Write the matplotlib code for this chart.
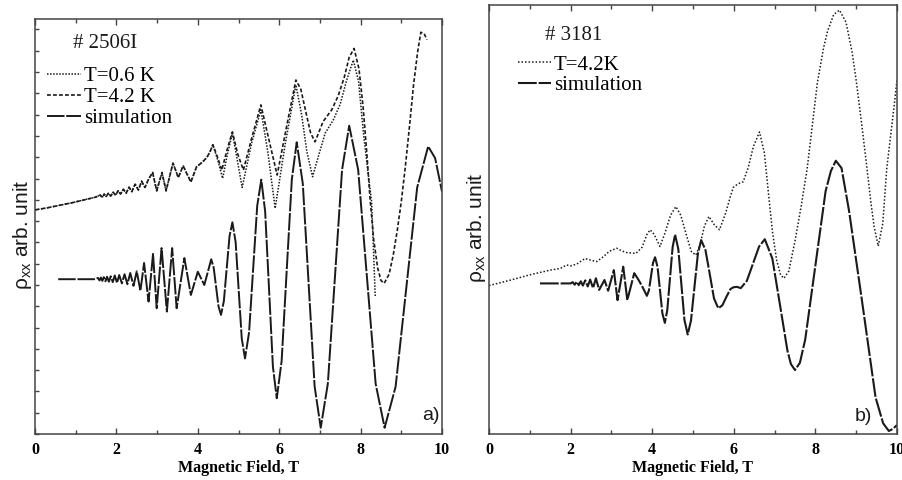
import numpy as np
import matplotlib.pyplot as plt
from matplotlib.ticker import MultipleLocator

plt.rcParams['font.family'] = ['Liberation Serif', 'DejaVu Serif']
plt.rcParams['mathtext.fontset'] = 'custom'
plt.rcParams['mathtext.rm'] = 'Liberation Sans'

# ---- panel a) sample # 2506I (rho in arb. units, 0..100 over the axis height)
field_06K_a = [0.0, 0.3, 0.6, 0.9, 1.2, 1.5, 1.6, 1.65, 1.7, 1.75, 1.8, 1.86, 1.92, 1.98,
               2.04, 2.1, 2.17, 2.24, 2.31, 2.38, 2.46, 2.54, 2.62, 2.70, 2.80, 2.89, 2.99,
               3.12, 3.22, 3.39, 3.52, 3.64, 3.83, 3.97, 4.10, 4.22, 4.30, 4.37, 4.49, 4.61,
               4.73, 4.85, 4.97, 5.09, 5.32, 5.55, 5.72, 5.90, 6.15, 6.41, 6.55, 6.68, 6.82,
               6.98, 7.13, 7.33, 7.50, 7.65, 7.82, 7.95, 8.07, 8.17, 8.27, 8.31, 8.36]
rho_06K_a = [54.0, 54.5, 55.1, 55.7, 56.4, 57.1, 57.6, 57.0, 57.8, 57.2, 58.0, 57.3, 58.3, 57.5,
             58.6, 57.8, 59.0, 58.0, 59.5, 58.4, 60.2, 58.8, 60.9, 59.4, 61.6, 63.0, 58.6,
             63.0, 58.6, 65.3, 61.8, 64.6, 60.7, 64.4, 65.4, 66.6, 68.0, 69.7, 66.0, 61.6,
             67.5, 72.5, 66.0, 59.4, 70.0, 78.1, 68.0, 54.4, 70.0, 84.1, 77.0, 68.0, 62.0,
             67.5, 72.5, 75.7, 79.5, 85.0, 90.1, 85.0, 72.5, 64.0, 56.0, 46.0, 33.1]

field_42K_a = [0.0, 0.3, 0.6, 0.9, 1.2, 1.5, 1.6, 1.65, 1.7, 1.75, 1.8, 1.86, 1.92, 1.98,
               2.04, 2.1, 2.17, 2.24, 2.31, 2.38, 2.46, 2.54, 2.62, 2.70, 2.80, 2.89, 2.99,
               3.12, 3.22, 3.39, 3.52, 3.64, 3.83, 3.97, 4.10, 4.22, 4.30, 4.37, 4.48, 4.59,
               4.72, 4.85, 4.98, 5.12, 5.33, 5.55, 5.75, 5.95, 6.18, 6.41, 6.53, 6.65, 6.77,
               6.88, 7.08, 7.29, 7.45, 7.60, 7.72, 7.84, 7.96, 8.06, 8.15, 8.23, 8.32, 8.42,
               8.50, 8.58, 8.70, 8.80, 8.90, 9.00, 9.10, 9.20, 9.30, 9.40, 9.48, 9.56, 9.63]
rho_42K_a = [54.0, 54.5, 55.1, 55.7, 56.4, 57.1, 57.6, 57.0, 57.8, 57.2, 58.0, 57.3, 58.3, 57.5,
             58.6, 57.8, 59.0, 58.0, 59.5, 58.4, 60.2, 58.8, 60.9, 59.4, 61.6, 63.0, 58.6,
             63.0, 58.6, 65.3, 61.8, 64.6, 60.7, 64.4, 65.4, 66.6, 68.0, 69.7, 66.8, 63.6,
             68.5, 72.8, 67.5, 63.6, 71.5, 79.3, 70.8, 62.4, 74.0, 85.3, 83.1, 77.8, 72.6,
             70.4, 75.3, 78.1, 81.5, 86.0, 90.8, 92.9, 88.0, 79.0, 68.0, 57.0, 47.0, 40.0,
             37.0, 36.3, 38.5, 43.0, 49.0, 56.0, 64.5, 74.0, 84.0, 92.0, 96.8, 96.5, 95.0]

field_sim_a = [0.57, 1.45, 1.55, 1.585, 1.62, 1.655, 1.69, 1.73, 1.77, 1.815, 1.86, 1.91, 1.96,
               2.015, 2.07, 2.135, 2.20, 2.27, 2.34, 2.42, 2.50, 2.59, 2.68, 2.79, 2.90, 2.99,
               3.11, 3.24, 3.37, 3.48, 3.67, 3.83, 4.00, 4.16, 4.33, 4.39, 4.45, 4.51, 4.57,
               4.64, 4.71, 4.78, 4.85, 4.93, 5.005, 5.08, 5.16, 5.26, 5.36, 5.46, 5.56, 5.655,
               5.75, 5.845, 5.94, 6.06, 6.185, 6.31, 6.43, 6.58, 6.725, 6.87, 7.02, 7.195,
               7.37, 7.545, 7.72, 7.94, 8.155, 8.37, 8.59, 8.86, 9.125, 9.39, 9.66, 9.83, 10.0]
rho_sim_a = [37.3, 37.3, 37.6, 37.0, 37.7, 36.9, 37.8, 36.8, 37.9, 36.7, 38.0, 36.6, 38.2,
             36.4, 38.3, 36.3, 38.5, 36.1, 38.8, 35.7, 39.2, 34.5, 41.2, 31.9, 43.4, 30.3,
             44.8, 29.5, 44.8, 30.3, 42.4, 33.5, 39.1, 35.9, 42.1, 40.1, 35.4, 30.7, 28.7,
             32.0, 39.9, 47.7, 51.0, 46.2, 34.6, 23.0, 18.2, 24.5, 39.8, 55.0, 61.3, 53.6,
             35.0, 16.3, 8.6, 17.6, 39.5, 61.3, 70.3, 60.3, 35.9, 11.5, 1.5, 12.1,
             37.9, 63.7, 74.3, 63.7, 37.9, 12.1, 1.5, 11.4, 35.4, 59.4, 69.3, 66.5, 58.4]

# ---- panel b) sample # 3181
field_42K_b = [0.0, 0.5, 1.0, 1.5, 1.75, 1.9, 2.0, 2.15, 2.35, 2.5, 2.64, 2.8, 2.95, 3.13,
               3.25, 3.37, 3.6, 3.75, 3.87, 3.95, 4.05, 4.19, 4.3, 4.45, 4.58, 4.7, 4.85, 4.96,
               5.07, 5.17, 5.28, 5.39, 5.52, 5.65, 5.8, 5.92, 5.99, 6.1, 6.23, 6.35, 6.48,
               6.63, 6.75, 6.85, 6.95, 7.05, 7.15, 7.23, 7.35, 7.5, 7.65, 7.8, 7.95, 8.05,
               8.2, 8.3, 8.45, 8.59, 8.75, 8.9, 9.01, 9.15, 9.26, 9.36, 9.44, 9.54, 9.65,
               9.75, 9.85, 9.93, 10.0]
rho_42K_b = [34.6, 35.8, 37.1, 38.2, 38.6, 39.4, 39.2, 39.6, 40.9, 40.5, 40.2, 41.3, 42.6, 43.3,
             42.7, 42.3, 42.1, 43.5, 46.5, 47.6, 46.5, 43.7, 46.5, 51.0, 53.0, 51.0, 46.0, 42.5,
             41.7, 44.0, 48.5, 50.7, 48.8, 47.6, 51.5, 55.5, 57.5, 58.3, 58.8, 62.0, 67.0,
             70.4, 65.5, 56.0, 47.0, 40.5, 37.0, 36.3, 38.0, 45.0, 53.0, 62.0, 74.0, 82.0,
             90.0, 94.0, 97.8, 98.8, 96.0, 89.0, 81.7, 71.0, 62.3, 54.0, 48.3, 43.8, 49.0,
             62.0, 70.0, 76.5, 82.5]

field_sim_b = [1.25, 2.0, 2.05, 2.1, 2.15, 2.2, 2.25, 2.3, 2.36, 2.42, 2.48, 2.55, 2.62, 2.70,
               2.83, 2.92, 3.06, 3.15, 3.29, 3.39, 3.56, 3.66, 3.75, 3.87, 3.92, 3.97, 4.02,
               4.07, 4.13, 4.19, 4.25, 4.31, 4.37, 4.435, 4.50, 4.56, 4.64, 4.715, 4.79, 4.87,
               4.95, 5.035, 5.12, 5.20, 5.305, 5.41, 5.515, 5.62, 5.72, 5.82, 5.92, 5.99, 6.08,
               6.17, 6.32, 6.47, 6.62, 6.76, 6.945, 7.13, 7.315, 7.40, 7.50, 7.62, 7.75, 8.0,
               8.25, 8.38, 8.50, 8.64, 8.825, 9.15, 9.475, 9.66, 9.80, 9.9, 10.0]
rho_sim_b = [35.1, 35.1, 35.4, 34.8, 35.5, 34.7, 35.6, 34.6, 35.8, 34.4, 36.0, 34.0, 36.3, 33.6,
             35.9, 33.4, 38.2, 31.2, 39.0, 31.2, 37.5, 36.0, 34.5, 32.2, 33.5, 36.7, 39.9,
             41.2, 39.0, 33.6, 28.1, 25.9, 28.9, 36.2, 43.5, 46.5, 43.1, 34.9, 26.6, 23.2,
             26.4, 34.2, 42.0, 45.2, 42.9, 37.3, 31.6, 29.3, 30.0, 32.0, 33.8, 34.2, 34.3,
             34.0, 35.7, 39.7, 43.7, 45.4, 40.9, 30.2, 19.4, 16.3, 14.9, 16.6, 22.0, 39.3,
             56.6, 61.3, 63.7, 62.0, 52.0, 30.5, 8.5, 2.5, 0.7, 1.2, 2.1]

samples = ['# 2506I', '# 3181']
panel_tags = ['a)', 'b)']
ylabel = 'ρ$_{\\mathregular{xx}}$ arb. unit'
xlabel = 'Magnetic Field, T'

ink = '#1a1a1a'
spine_col = '#444444'
dotted = (0, (1, 1))
short_dash = (0, (2.3, 1.3))
long_dash = (0, (9, 0.9))
leg_font = {'family': 'Liberation Serif', 'size': 15}

fig = plt.figure(figsize=(9.02, 4.8), dpi=100)
ax1 = fig.add_axes([35/902, 46/480, 407/902, 415/480])
ax2 = fig.add_axes([489/902, 46/480, 408/902, 429/480])


def style_axes(ax, yticks):
    ax.set_xlim(0, 10)
    ax.set_ylim(0, 100)
    ax.xaxis.set_major_locator(MultipleLocator(2))
    ax.xaxis.set_minor_locator(MultipleLocator(1))
    ax.tick_params(axis='x', which='major', direction='in', length=4, width=1,
                   top=True, color=spine_col, labelsize=11.5, pad=6)
    ax.tick_params(axis='x', which='minor', direction='in', length=3, width=1,
                   top=True, color=spine_col)
    if yticks:
        ax.yaxis.set_major_locator(MultipleLocator(5.13))
        ax.tick_params(axis='y', which='major', direction='in', length=3, width=1,
                       color=spine_col, labelleft=False)
    else:
        ax.set_yticks([])
    ax.yaxis.set_minor_locator(plt.NullLocator())
    for lab in ax.get_xticklabels():
        lab.set_fontweight('bold')
    for sp in ax.spines.values():
        sp.set_color(spine_col)
        sp.set_linewidth(1.1)
    ax.set_xlabel(xlabel, fontweight='bold', fontsize=11.5, labelpad=1)
    ax.set_ylabel(ylabel, family='Liberation Sans', fontsize=15, color=ink)


# panel a
ax1.plot(field_06K_a, rho_06K_a, color=ink, lw=1.1, ls=dotted, label='T=0.6 K')
ax1.plot(field_42K_a, rho_42K_a, color=ink, lw=1.2, ls=short_dash, label='T=4.2 K')
ax1.plot(field_sim_a, rho_sim_a, color=ink, lw=1.4, ls=long_dash, label='simulation')
style_axes(ax1, True)
ax1.yaxis.set_label_coords(-0.002, 0.48)
ax1.text(0.172, 0.942, samples[0], transform=ax1.transAxes, ha='center', va='center',
         fontsize=15, color=ink)
ax1.legend(loc='upper left', bbox_to_anchor=(0.03, 0.886), frameon=False, prop=leg_font,
           handlelength=1.6, handletextpad=0.15, labelspacing=0.08,
           borderpad=0, borderaxespad=0)
ax1.text(0.995, 0.045, panel_tags[0], transform=ax1.transAxes, ha='right', va='center',
         family='Liberation Sans', fontsize=14, color=ink)

# panel b
ax2.plot(field_42K_b, rho_42K_b, color=ink, lw=1.1, ls=(0, (1, 1.3)), label='T=4.2K')
ax2.plot(field_sim_b, rho_sim_b, color=ink, lw=1.5, ls=long_dash, label='simulation')
style_axes(ax2, False)
ax2.yaxis.set_label_coords(-0.003, 0.48)
ax2.text(0.207, 0.928, samples[1], transform=ax2.transAxes, ha='center', va='center',
         fontsize=15, color=ink)
ax2.legend(loc='upper left', bbox_to_anchor=(0.07, 0.883), frameon=False, prop=leg_font,
           handlelength=1.6, handletextpad=0.15, labelspacing=0.05,
           borderpad=0, borderaxespad=0)
ax2.text(0.94, 0.04, panel_tags[1], transform=ax2.transAxes, ha='right', va='center',
         family='Liberation Sans', fontsize=14, color=ink)

fig.savefig('out.png', dpi=100)
